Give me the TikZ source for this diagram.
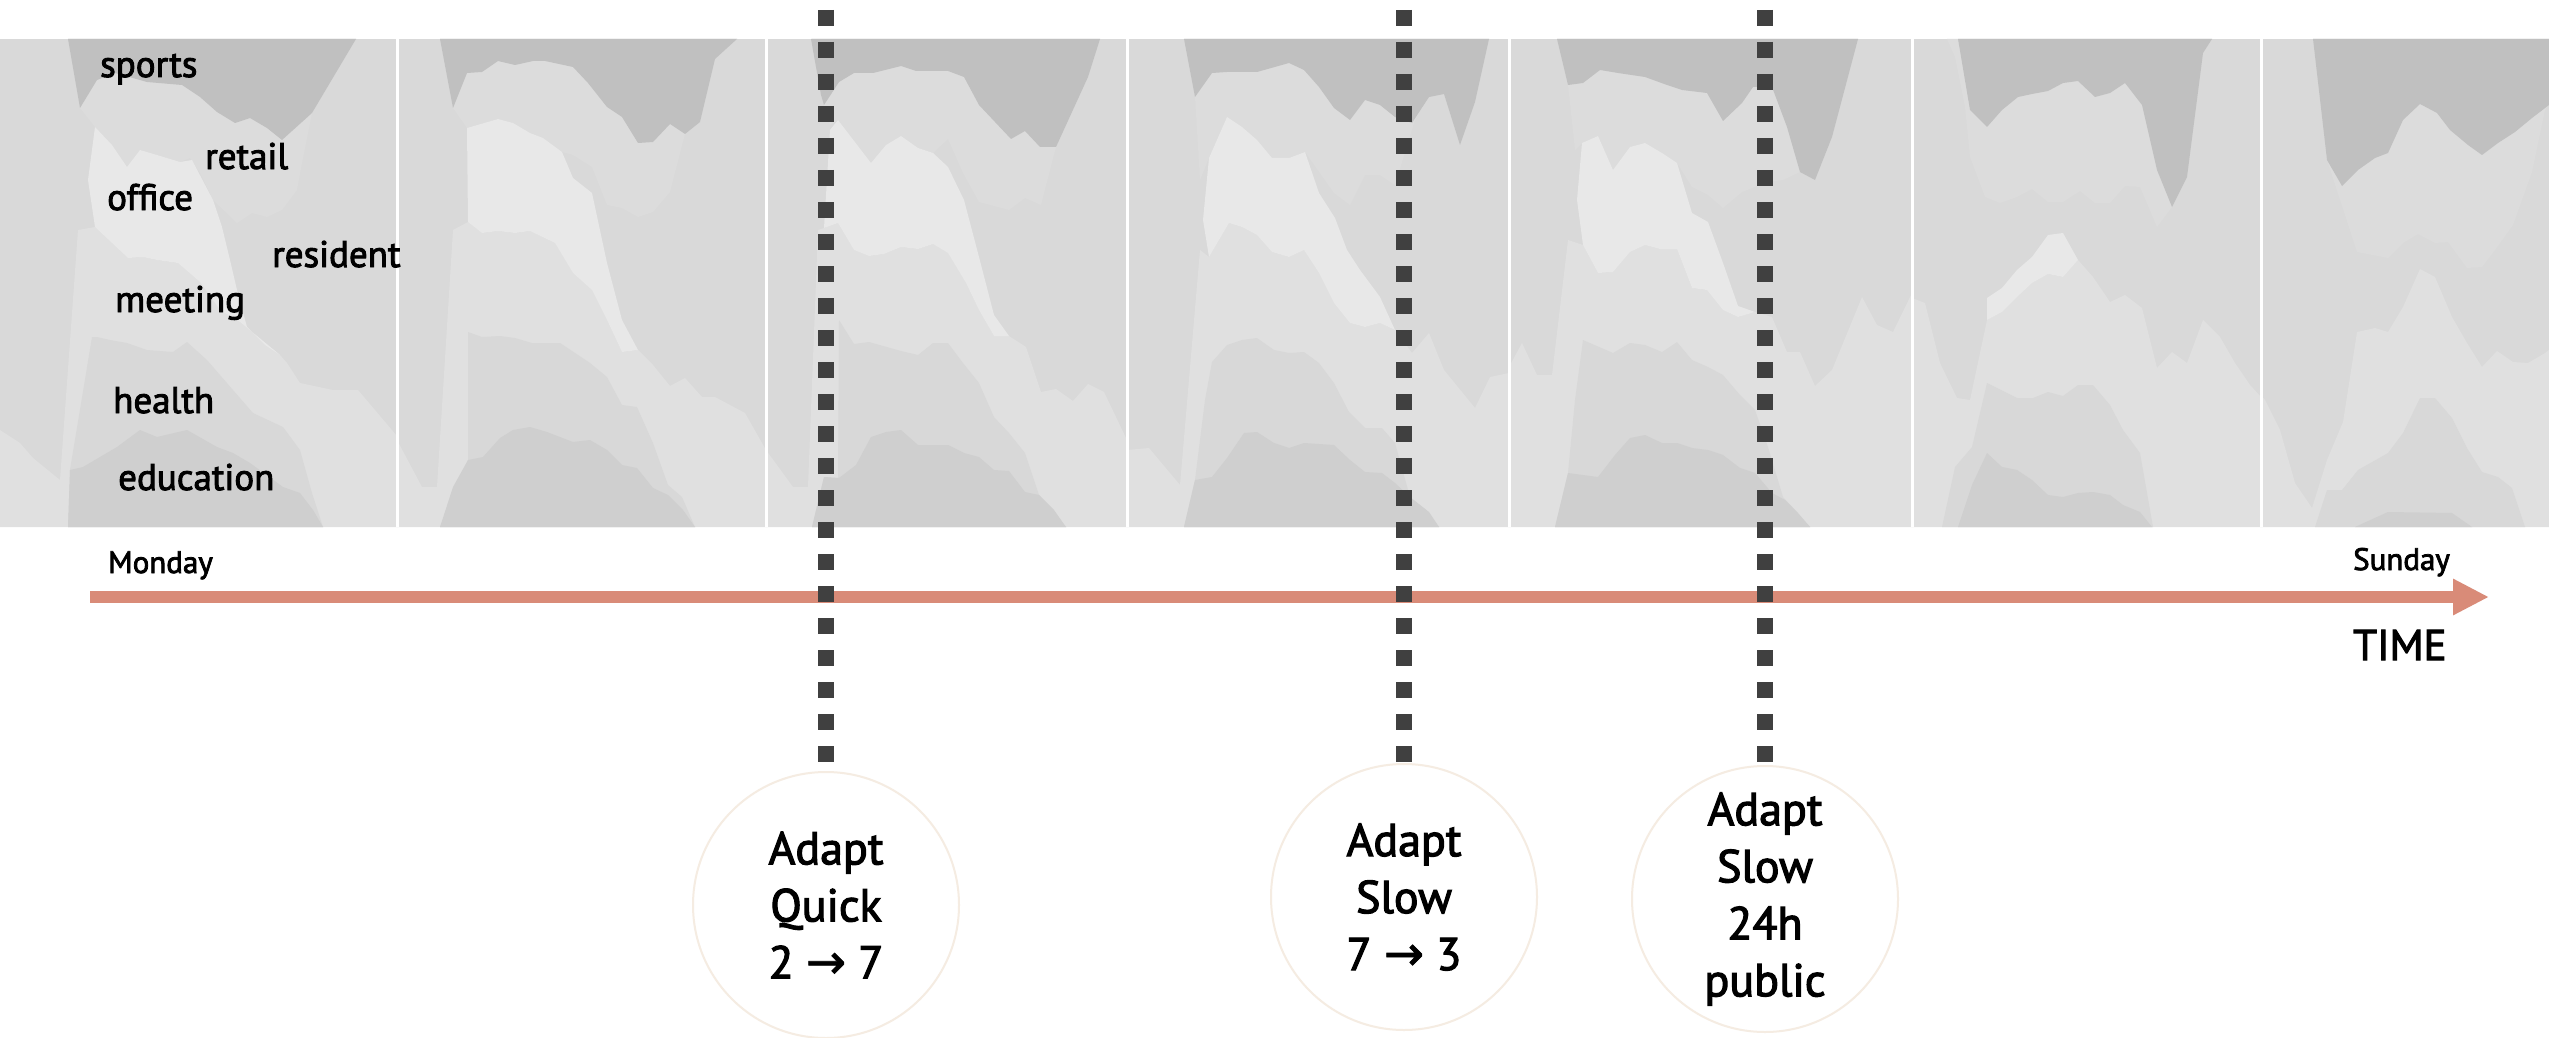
\documentclass[tikz,border=0pt]{standalone}
\usepackage{fontspec}
\setmainfont{PT Sans}[FakeBold=2.5]
\newfontfamily\symfont{DejaVu Sans}[FakeBold=1.5]
\usetikzlibrary{arrows.meta}
\definecolor{sportsc}{HTML}{C0C0C0}
\definecolor{retailc}{HTML}{DCDCDC}
\definecolor{officec}{HTML}{E8E8E8}
\definecolor{residc}{HTML}{D9D9D9}
\definecolor{meetc}{HTML}{E0E0E0}
\definecolor{healthc}{HTML}{D8D8D8}
\definecolor{educc}{HTML}{CFCFCF}
\definecolor{dotc}{HTML}{404040}
\definecolor{arrowc}{HTML}{D98B78}
\definecolor{circc}{HTML}{F5ECE2}
\begin{document}
\begin{tikzpicture}[x=1pt,y=-1pt,
  lbl/.style={anchor=base west, inner sep=0pt, font=\fontsize{37}{44}\selectfont},
  daylbl/.style={anchor=base west, inner sep=0pt, font=\fontsize{31}{37}\selectfont},
  timelbl/.style={anchor=base west, inner sep=0pt, font=\fontsize{43}{50}\selectfont},
  adapt/.style={circle, draw=circc, line width=2pt, minimum size=266pt, inner sep=0pt, align=center, font=\fontsize{46}{57}\selectfont},
  dotline/.style={draw=dotc, line width=16pt, dash pattern=on 16pt off 16pt},
  timeline/.style={draw=arrowc, line width=12pt, -{Triangle[length=36pt,width=34pt]}},
  divider/.style={draw=white, line width=3pt}]
\useasboundingbox (0,0) rectangle (2549,1038);
\fill[white] (0,0) rectangle (2549,1038);
% band background (resident)
\fill[residc] (0,39) rectangle (2549,527);
% ---------- panel 1 ----------
\fill[meetc] plot coordinates {(0,430) (20,443) (33,458) (60,480) (78,230) (95,227) (112,243) (128,258) (143,257) (157,260) (178,263) (200,282) (220,310) (240,322) (280,355) (287,363) (300,383) (333,390) (358,390) (397,436) (397,527) (0,527)};
\fill[healthc] plot coordinates {(92,337) (97,337) (110,340) (127,343) (147,350) (173,352) (187,342) (207,360) (233,390) (253,413) (283,427) (300,450) (312,493) (323,527) (68,527) (70,470)};
\fill[educc] plot coordinates {(68,527) (70,470) (83,467) (117,447) (140,430) (157,437) (187,430) (217,447) (233,453) (250,463) (283,487) (300,493) (313,510) (323,527)};
\fill[retailc] plot coordinates {(68,39) (80,108) (95,127) (112,145) (127,167) (140,150) (157,155) (180,162) (190,158) (200,173) (213,200) (237,223) (252,213) (267,217) (282,210) (297,190) (302,163) (312,113) (356,39)};
\fill[officec] plot coordinates {(95,127) (112,145) (127,167) (140,150) (157,155) (180,162) (192,160) (213,200) (222,227) (230,260) (237,290) (247,327) (265,345) (280,355) (240,322) (220,310) (200,282) (178,263) (157,260) (143,257) (128,258) (112,243) (95,227) (88,180)};
\fill[sportsc] plot coordinates {(68,39) (80,108) (97,80) (115,73) (147,82) (182,85) (200,97) (217,112) (235,123) (250,118) (267,128) (282,140) (312,113) (356,39)};
% ---------- panel 2 ----------
\fill[meetc] plot coordinates {(397,440) (422,487) (437,487) (453,230) (468,222) (482,233) (498,231) (515,233) (530,231) (555,243) (573,273) (592,290) (607,320) (622,352) (638,350) (653,365) (670,386) (685,378) (702,397) (715,397) (745,413) (766,450) (766,527) (397,527)};
\fill[healthc] plot coordinates {(468,332) (482,337) (500,336) (515,338) (532,343) (560,343) (590,363) (607,377) (622,405) (637,407) (653,443) (668,485) (682,497) (695,527) (440,527) (468,460)};
\fill[educc] plot coordinates {(440,527) (453,487) (468,460) (483,457) (500,438) (513,430) (530,427) (547,432) (573,442) (590,440) (607,450) (622,465) (637,468) (653,488) (668,495) (683,510) (695,527)};
\fill[retailc] plot coordinates {(440,39) (453,108) (467,128) (498,119) (513,123) (530,133) (543,138) (562,152) (573,155) (592,167) (607,205) (622,208) (638,217) (653,212) (670,192) (685,134) (700,122) (715,59) (737,39)};
\fill[officec] plot coordinates {(467,128) (498,119) (513,123) (530,133) (543,138) (562,152) (573,178) (592,193) (607,263) (622,320) (638,350) (622,352) (607,320) (592,290) (573,273) (555,243) (530,231) (515,233) (498,231) (482,233) (468,222)};
\fill[sportsc] plot coordinates {(440,39) (453,108) (467,73) (482,72) (498,61) (515,65) (533,61) (545,61) (573,67) (588,83) (607,107) (622,117) (638,143) (653,142) (670,124) (685,134) (700,122) (715,59) (737,39)};
% ---------- panel 3 ----------
\fill[meetc] plot coordinates {(766,450) (793,487) (808,487) (818,230) (824,228) (838,223) (854,250) (869,256) (884,254) (901,247) (918,249) (933,244) (948,253) (966,283) (979,310) (994,336) (1009,336) (1026,347) (1041,392) (1056,389) (1073,401) (1088,384) (1104,392) (1127,440) (1127,527) (766,527)};
\fill[healthc] plot coordinates {(839,320) (854,344) (869,342) (901,351) (918,355) (933,343) (948,343) (963,363) (979,383) (994,417) (1009,433) (1025,453) (1039,495) (1066,527) (812,527) (824,477) (838,478)};
\fill[educc] plot coordinates {(812,527) (824,477) (839,478) (856,465) (871,437) (886,432) (901,430) (918,445) (948,445) (964,453) (979,457) (994,470) (1009,471) (1025,492) (1039,495) (1054,510) (1066,527)};
\fill[retailc] plot coordinates {(812,39) (821,95) (824,105) (830,125) (838,120) (871,163) (886,145) (901,136) (918,148) (933,153) (948,139) (963,173) (979,202) (1009,210) (1025,198) (1041,205) (1056,147) (1088,77) (1100,39)};
\fill[officec] plot coordinates {(830,130) (838,120) (871,163) (886,145) (901,136) (918,148) (933,153) (948,167) (964,200) (979,257) (994,315) (1009,336) (994,336) (979,310) (966,283) (948,253) (933,244) (918,249) (901,247) (884,254) (869,256) (854,250) (838,223) (824,228)};
\fill[sportsc] plot coordinates {(811,39) (821,95) (824,105) (839,82) (854,73) (873,73) (901,66) (916,71) (948,71) (964,77) (979,105) (1011,139) (1025,131) (1040,147) (1056,147) (1088,77) (1100,39)};
% ---------- panel 4 ----------
\fill[meetc] plot coordinates {(1127,450) (1149,448) (1180,485) (1200,250) (1209,257) (1229,223) (1242,227) (1257,235) (1272,252) (1289,257) (1304,250) (1319,273) (1334,303) (1350,323) (1365,327) (1380,323) (1395,330) (1412,353) (1429,333) (1444,370) (1475,408) (1490,377) (1509,373) (1509,527) (1127,527)};
\fill[healthc] plot coordinates {(1212,362) (1227,345) (1242,340) (1257,338) (1274,350) (1289,353) (1304,352) (1319,363) (1334,383) (1349,412) (1365,428) (1382,428) (1395,443) (1410,497) (1439,527) (1184,527) (1195,480) (1205,400)};
\fill[educc] plot coordinates {(1184,527) (1195,480) (1212,477) (1227,458) (1244,433) (1257,432) (1274,443) (1289,448) (1304,443) (1334,445) (1350,460) (1365,472) (1382,473) (1395,483) (1410,497) (1429,512) (1439,527)};
\fill[retailc] plot coordinates {(1184,39) (1195,97) (1200,180) (1209,158) (1227,117) (1242,127) (1257,140) (1272,158) (1289,158) (1305,152) (1334,193) (1350,205) (1365,175) (1380,175) (1395,185) (1415,120) (1429,97) (1444,94) (1460,145) (1475,102) (1489,39)};
\fill[officec] plot coordinates {(1209,158) (1227,117) (1242,127) (1257,140) (1272,158) (1289,158) (1305,152) (1319,193) (1335,218) (1347,250) (1360,270) (1380,297) (1395,330) (1380,323) (1365,327) (1350,323) (1334,303) (1319,273) (1304,250) (1289,257) (1272,252) (1257,235) (1242,227) (1229,223) (1209,257) (1203,220)};
\fill[sportsc] plot coordinates {(1184,39) (1195,97) (1212,73) (1227,72) (1257,72) (1289,63) (1304,70) (1319,87) (1334,108) (1350,120) (1365,100) (1380,105) (1395,117) (1412,123) (1429,97) (1444,94) (1460,145) (1475,102) (1489,39)};
% ---------- panel 5 ----------
\fill[meetc] plot coordinates {(1509,367) (1522,343) (1537,375) (1552,375) (1568,240) (1583,245) (1598,273) (1613,272) (1630,252) (1645,245) (1660,249) (1677,249) (1692,288) (1707,290) (1723,310) (1738,317) (1755,312) (1772,317) (1787,352) (1800,352) (1815,386) (1832,370) (1862,297) (1877,325) (1893,332) (1912,293) (1912,527) (1509,527)};
\fill[healthc] plot coordinates {(1583,340) (1613,353) (1630,343) (1645,345) (1662,352) (1677,342) (1692,360) (1708,367) (1723,375) (1740,395) (1755,410) (1768,447) (1783,497) (1810,527) (1555,527) (1568,473) (1575,400)};
\fill[educc] plot coordinates {(1555,527) (1568,473) (1598,477) (1615,455) (1630,438) (1645,435) (1662,443) (1677,443) (1692,448) (1708,450) (1723,455) (1740,468) (1755,473) (1772,493) (1785,500) (1798,513) (1810,527)};
\fill[retailc] plot coordinates {(1557,39) (1568,85) (1575,150) (1582,143) (1598,136) (1613,170) (1630,147) (1645,143) (1662,153) (1677,163) (1692,187) (1708,195) (1723,208) (1742,192) (1768,182) (1783,180) (1800,172) (1815,180) (1832,137) (1858,39)};
\fill[officec] plot coordinates {(1582,143) (1598,136) (1613,170) (1630,147) (1645,143) (1662,153) (1677,163) (1692,213) (1708,222) (1723,263) (1738,306) (1755,312) (1738,317) (1723,310) (1707,290) (1692,288) (1677,249) (1660,249) (1645,245) (1630,252) (1613,272) (1598,273) (1583,245) (1577,200)};
\fill[sportsc] plot coordinates {(1557,39) (1568,85) (1583,83) (1600,70) (1618,73) (1645,77) (1667,85) (1682,90) (1707,93) (1723,121) (1742,103) (1753,87) (1772,87) (1787,127) (1800,172) (1815,180) (1832,137) (1858,39)};
% ---------- panel 6 ----------
\fill[meetc] plot coordinates {(1912,298) (1925,303) (1940,363) (1957,398) (1970,400) (1987,320) (2002,312) (2017,297) (2032,283) (2048,274) (2063,277) (2078,260) (2093,277) (2110,302) (2125,295) (2142,308) (2157,368) (2172,352) (2187,363) (2203,320) (2220,337) (2235,363) (2250,385) (2261,397) (2261,527) (1912,527)};
\fill[healthc] plot coordinates {(1942,527) (1955,467) (1972,447) (1987,383) (2017,398) (2033,398) (2048,392) (2063,396) (2078,385) (2093,385) (2110,405) (2123,430) (2140,453) (2153,527)};
\fill[educc] plot coordinates {(1958,527) (1972,485) (1987,453) (2002,467) (2017,470) (2032,480) (2048,495) (2063,497) (2078,493) (2093,492) (2110,495) (2123,505) (2140,512) (2152,527)};
\fill[retailc] plot coordinates {(1947,39) (1955,57) (1965,107) (1970,157) (1985,197) (2000,203) (2017,197) (2032,189) (2048,202) (2063,202) (2080,191) (2095,203) (2110,203) (2125,186) (2140,187) (2157,227) (2172,207) (2187,177) (2203,53) (2212,39)};
\fill[officec] plot coordinates {(1987,298) (2002,288) (2017,270) (2032,257) (2048,235) (2063,233) (2078,260) (2063,277) (2048,274) (2032,283) (2017,297) (2002,312) (1987,320)};
\fill[sportsc] plot coordinates {(1958,39) (1970,110) (1987,127) (2002,110) (2018,97) (2032,94) (2048,91) (2063,83) (2078,81) (2095,97) (2110,93) (2125,83) (2142,105) (2157,170) (2172,207) (2187,177) (2203,53) (2212,39)};
% ---------- panel 7 ----------
\fill[meetc] plot coordinates {(2261,395) (2265,400) (2280,430) (2295,483) (2312,508) (2327,460) (2343,422) (2357,332) (2375,328) (2388,332) (2403,307) (2420,269) (2435,277) (2452,317) (2467,343) (2482,367) (2497,351) (2513,362) (2528,363) (2545,353) (2549,350) (2549,527) (2261,527)};
\fill[healthc] plot coordinates {(2315,527) (2327,490) (2342,490) (2358,470) (2388,453) (2403,433) (2420,398) (2435,398) (2452,418) (2467,448) (2482,472) (2498,477) (2512,488) (2525,527)};
\fill[educc] plot coordinates {(2355,527) (2388,512) (2452,513) (2472,527)};
\fill[retailc] plot coordinates {(2313,39) (2327,160) (2357,252) (2388,258) (2403,243) (2418,234) (2435,243) (2448,242) (2467,268) (2482,267) (2495,250) (2513,225) (2532,172) (2545,110) (2549,105) (2549,39)};
\fill[sportsc] plot coordinates {(2313,39) (2327,160) (2342,186) (2358,170) (2375,158) (2388,153) (2403,120) (2420,104) (2437,113) (2450,130) (2468,145) (2482,155) (2498,143) (2515,132) (2532,118) (2549,105) (2549,39)};
% dividers
\foreach \xd in {397,766,1127,1509,1912,2261} {\draw[divider] (\xd,39) -- (\xd,527);}
% labels
\node[lbl] (lsports) at (100,77) {sports};
\node[lbl] (lretail) at (205,169) {retail};
\node[lbl] (loffice) at (107,210) {office};
\node[lbl] (lresident) at (272,267) {resident};
\node[lbl] (lmeeting) at (115,312) {meeting};
\node[lbl] (lhealth) at (113,413) {health};
\node[lbl] (leducation) at (118,490) {education};
% time axis
\coordinate (tstart) at (90,597);
\coordinate (tend) at (2489,597);
\draw[timeline] (tstart) -- (tend);
\node[daylbl] (monday) at (108,573) {Monday};
\node[daylbl] (sunday) at (2353,570) {Sunday};
\node[timelbl] (time) at (2353,660) {TIME};
% adapt circles
\node[adapt] (c1) at (826,905) {Adapt\\Quick\\2 {\symfont\fontsize{48}{57}\selectfont →} 7};
\node[adapt] (c2) at (1404,897) {Adapt\\Slow\\7 {\symfont\fontsize{48}{57}\selectfont →} 3};
\node[adapt] (c3) at (1765,899) {Adapt\\Slow\\24h\\public};
% dotted markers
\coordinate (d1) at (826,10);
\coordinate (d2) at (1404,10);
\coordinate (d3) at (1765,10);
\draw[dotline, shorten >=9pt] (d1) -- (c1.north);
\draw[dotline, shorten >=1pt] (d2) -- (c2.north);
\draw[dotline, shorten >=1pt] (d3) -- (c3.north);
\end{tikzpicture}
\end{document}
